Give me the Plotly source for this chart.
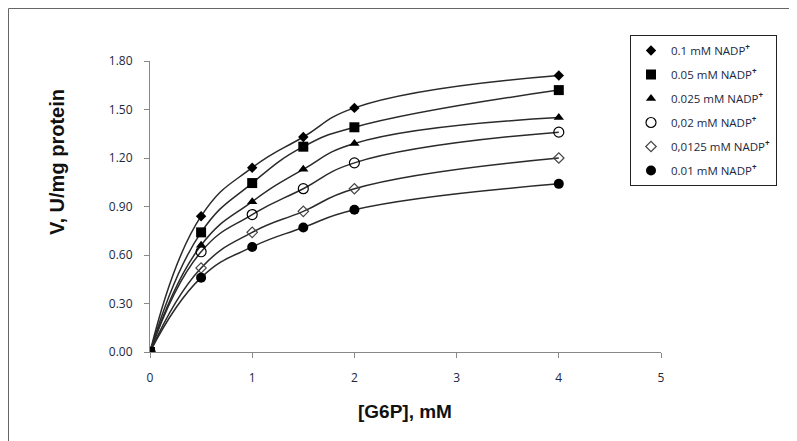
import plotly.graph_objects as go

g6p = [0, 0.5, 1, 1.5, 2, 4]
series_names = [
    "0.1 mM NADP<sup><b>+</b></sup>",
    "0.05 mM NADP<sup><b>+</b></sup>",
    "0.025 mM NADP<sup><b>+</b></sup>",
    "0,02 mM NADP<sup><b>+</b></sup>",
    "0,0125 mM NADP<sup><b>+</b></sup>",
    "0.01 mM NADP<sup><b>+</b></sup>",
]
v_01 = [0, 0.84, 1.14, 1.33, 1.51, 1.71]
v_005 = [0, 0.74, 1.045, 1.27, 1.39, 1.62]
v_0025 = [0, 0.66, 0.93, 1.13, 1.29, 1.45]
v_002 = [0, 0.62, 0.85, 1.01, 1.17, 1.36]
v_00125 = [0, 0.52, 0.74, 0.87, 1.01, 1.20]
v_001 = [0, 0.46, 0.65, 0.77, 0.88, 1.04]
all_values = [v_01, v_005, v_0025, v_002, v_00125, v_001]

y_ticks = [0, 0.3, 0.6, 0.9, 1.2, 1.5, 1.8]
x_ticks = [0, 1, 2, 3, 4, 5]

markers = [
    dict(symbol="diamond", size=8, color="black"),
    dict(symbol="square", size=10, color="black"),
    dict(symbol="triangle-up", size=9, color="black"),
    dict(symbol="circle-open", size=10, color="black", line=dict(width=1.2)),
    dict(symbol="diamond-open", size=8, color="#444", line=dict(width=1.2)),
    dict(symbol="circle", size=10, color="black"),
]

fig = go.Figure()
for name, vals in zip(series_names, all_values):
    fig.add_trace(go.Scatter(
        x=g6p, y=vals, mode="lines", showlegend=False,
        line=dict(shape="spline", smoothing=1.3, color="#2a2a2a", width=1.5),
        hoverinfo="skip"))
for i, (name, vals, mk) in enumerate(zip(series_names, all_values, markers)):
    fig.add_trace(go.Scatter(
        x=g6p, y=vals, mode="markers", name=name, marker=mk,
        legendgroup=f"g{i}"))

# page geometry (the figure sits 8px in from the page corner)
OFF = 8
PAGE_W, PAGE_H = 797, 441
L, R, T, B = 150, 661, 61, 352
W, H = PAGE_W - OFF, PAGE_H - OFF
pw, ph = R - L, B - T

def px_x(p):
    return (p - L) / pw

def px_y(p):
    return (B - p) / ph

fig.update_layout(
    width=W, height=H,
    margin=dict(l=L - OFF, r=PAGE_W - R, t=T - OFF, b=PAGE_H - B),
    paper_bgcolor="white", plot_bgcolor="white",
    font=dict(family="Open Sans, Arial, sans-serif", size=12, color="#222"),
    xaxis=dict(range=[0, 5], tickvals=x_ticks, ticks="outside", ticklen=5,
               tickcolor="#888", showline=True, linecolor="#888", linewidth=1,
               showgrid=False, zeroline=False, ticklabelstandoff=10,
               tickfont=dict(size=12, color="#1c2740")),
    yaxis=dict(range=[0, 1.8], tickvals=y_ticks, tickformat=".2f",
               ticks="outside", ticklen=5, tickcolor="#888", showline=True,
               linecolor="#888", linewidth=1, showgrid=False, zeroline=False,
               ticklabelstandoff=9, tickfont=dict(size=12, color="#1c2740")),
    legend=dict(x=px_x(777), y=px_y(35), xanchor="right", yanchor="top",
                bordercolor="#222", borderwidth=1, bgcolor="white",
                font=dict(family="Open Sans, Arial, sans-serif", size=11.5, color="#1c2740"),
                tracegroupgap=5, itemwidth=30),
    annotations=[
        dict(text="<b>[G6P], mM</b>", xref="paper", yref="paper",
             x=px_x(405), y=px_y(411), xanchor="center", yanchor="middle",
             showarrow=False, font=dict(family="Arial, Liberation Sans", size=19, color="#111")),
        dict(text="<b>V, U/mg protein</b>", xref="paper", yref="paper",
             x=px_x(57), y=px_y(162), xanchor="center", yanchor="middle",
             textangle=-90, showarrow=False,
             font=dict(family="Arial, Liberation Sans", size=20, color="#111")),
    ],
    shapes=[
        dict(type="rect", xref="paper", yref="paper",
             x0=px_x(OFF + 0.5), x1=px_x(PAGE_W + 20), y0=px_y(PAGE_H + 20), y1=px_y(OFF + 0.5),
             line=dict(color="#666", width=1), fillcolor="rgba(0,0,0,0)",
             layer="below"),
    ],
)

fig.write_html("out.html")
